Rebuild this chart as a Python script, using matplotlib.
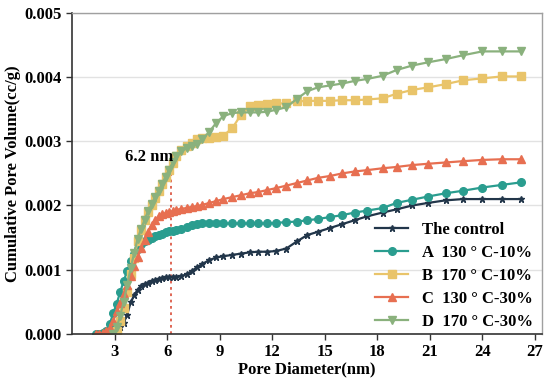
import numpy as np
import matplotlib

matplotlib.use("Agg")
import matplotlib.pyplot as plt
from matplotlib.ticker import FormatStrFormatter, MultipleLocator

plt.rcParams.update(
    {
        "font.family": ["Liberation Serif", "DejaVu Serif"],
        "font.weight": "bold",
        "axes.labelweight": "bold",
        "font.size": 12,
    }
)

nan = np.nan

# pore diameter (nm), shared by all series
diameter = [1.9, 2.1, 2.3, 2.5, 2.7, 2.9, 3.1, 3.3, 3.5, 3.7, 3.9, 4.1, 4.3, 4.5, 4.7,
            4.9, 5.1, 5.3, 5.5, 5.7, 5.9, 6.1, 6.3, 6.5, 6.8, 7.1, 7.4, 7.7, 8.0, 8.4,
            8.8, 9.2, 9.7, 10.2, 10.7, 11.2, 11.7, 12.2, 12.8, 13.4, 14.0, 14.6, 15.3,
            16.0, 16.7, 17.4, 18.3, 19.1, 20.0, 20.9, 21.9, 22.9, 24.0, 25.1, 26.2]

# cumulative pore volume, in 1e-3 cc/g
control = [nan, nan, nan, nan, nan, nan, 0.0, 0.10, 0.17, 0.30, 0.49, 0.60, 0.69, 0.74, 0.77,
           0.80, 0.82, 0.84, 0.86, 0.87, 0.88, 0.88, 0.89, 0.89, 0.90, 0.93, 0.98, 1.04, 1.09, 1.15,
           1.19, 1.21, 1.23, 1.25, 1.27, 1.28, 1.28, 1.29, 1.33, 1.44, 1.54, 1.59, 1.65,
           1.71, 1.77, 1.83, 1.89, 1.94, 2.00, 2.04, 2.08, 2.10, 2.10, 2.10, 2.10]
a_130_10 = [0.0, 0.0, 0.01, 0.04, 0.15, 0.32, 0.47, 0.65, 0.82, 0.98, 1.13, 1.24, 1.33, 1.40, 1.44,
            1.47, 1.50, 1.52, 1.54, 1.56, 1.58, 1.60, 1.61, 1.62, 1.64, 1.67, 1.69, 1.71, 1.72, 1.72,
            1.72, 1.72, 1.72, 1.72, 1.72, 1.72, 1.72, 1.73, 1.74, 1.75, 1.77, 1.79, 1.82,
            1.85, 1.89, 1.92, 1.96, 2.04, 2.09, 2.14, 2.19, 2.23, 2.28, 2.32, 2.36]
b_170_10 = [nan, nan, nan, nan, nan, 0.0, 0.05, 0.20, 0.40, 0.66, 0.93, 1.18, 1.45, 1.62, 1.77,
            1.90, 2.01, 2.12, 2.22, 2.33, 2.44, 2.55, 2.66, 2.77, 2.86, 2.92, 2.98, 3.03, 3.05, 3.05,
            3.06, 3.09, 3.20, 3.41, 3.55, 3.57, 3.58, 3.59, 3.59, 3.62, 3.63, 3.63, 3.63,
            3.64, 3.64, 3.65, 3.67, 3.74, 3.80, 3.84, 3.89, 3.95, 3.98, 4.01, 4.01]
c_130_30 = [0.0, 0.0, 0.01, 0.04, 0.09, 0.20, 0.35, 0.48, 0.62, 0.76, 0.90, 1.05, 1.20, 1.34, 1.47,
            1.59, 1.69, 1.77, 1.83, 1.86, 1.88, 1.90, 1.91, 1.93, 1.95, 1.96, 1.98, 1.99, 2.01, 2.04,
            2.07, 2.10, 2.13, 2.16, 2.19, 2.21, 2.24, 2.27, 2.31, 2.35, 2.39, 2.43, 2.46,
            2.50, 2.53, 2.55, 2.58, 2.60, 2.63, 2.65, 2.67, 2.69, 2.71, 2.72, 2.72]
d_170_30 = [nan, nan, nan, nan, nan, 0.0, 0.10, 0.28, 0.50, 0.76, 1.02, 1.26, 1.48, 1.64, 1.78,
            1.91, 2.02, 2.13, 2.23, 2.34, 2.45, 2.56, 2.67, 2.77, 2.85, 2.89, 2.92, 2.96, 3.03, 3.15,
            3.29, 3.39, 3.44, 3.45, 3.45, 3.45, 3.46, 3.49, 3.53, 3.66, 3.78, 3.84, 3.87,
            3.90, 3.94, 3.97, 4.02, 4.11, 4.18, 4.23, 4.28, 4.34, 4.40, 4.40, 4.40]

labels = ["The control", "A  130 ° C-10%", "B  170 ° C-10%", "C  130 ° C-30%", "D  170 ° C-30%"]
mark_d = 6.2
mark_top = 0.0026

styles = [
    ("#22364a", "*", 4.5),
    ("#2a9d8f", "o", 5.5),
    ("#e9c46a", "s", 5.5),
    ("#e76f51", "^", 5.5),
    ("#8ab17d", "v", 5.5),
]

fig = plt.figure(figsize=(5.5, 3.79), dpi=100)
ax = fig.add_axes([0.131, 0.119, 0.854, 0.847])

x = np.array(diameter)
for series, label, (color, marker, ms) in zip(
    [control, a_130_10, b_170_10, c_130_30, d_170_30], labels, styles
):
    y = np.array(series) * 1e-3
    ax.plot(x, y, color=color, marker=marker, markersize=ms, linewidth=1.6, label=label)

ax.plot([mark_d, mark_d], [0, mark_top], color="#dc5a48", linestyle=(0, (1.5, 2)), linewidth=1.3, zorder=1)
ax.text(4.95, 0.00276, "6.2 nm", ha="center", va="center", fontsize=12, fontweight="bold")

ax.set_xlim(0.55, 27.4)
ax.set_ylim(0, 0.005)
ax.set_xticks(np.arange(3, 28, 3))
ax.yaxis.set_major_locator(MultipleLocator(0.001))
ax.yaxis.set_major_formatter(FormatStrFormatter("%.3f"))
ax.grid(axis="y", color="#e2e2e2", linewidth=1.0)
ax.set_axisbelow(True)

for side in ["top", "right"]:
    ax.spines[side].set_color("#a0a0a0")
    ax.spines[side].set_linewidth(1.0)
for side in ["left", "bottom"]:
    ax.spines[side].set_color("#333333")
    ax.spines[side].set_linewidth(1.2)
ax.tick_params(direction="out", length=4, width=1.0, colors="#333333", labelcolor="black", labelsize=12)

ax.set_xlabel("Pore Diameter(nm)", fontsize=12, labelpad=1)
ax.set_ylabel("Cumulative Pore Volume(cc/g)", fontsize=12, labelpad=2)

ax.legend(
    loc="lower left",
    bbox_to_anchor=(0.645, 0.012),
    frameon=False,
    fontsize=12,
    handlelength=2.0,
    handletextpad=0.8,
    labelspacing=0.42,
    borderpad=0,
    borderaxespad=0,
    numpoints=1,
)

fig.savefig("out.png", dpi=100)
